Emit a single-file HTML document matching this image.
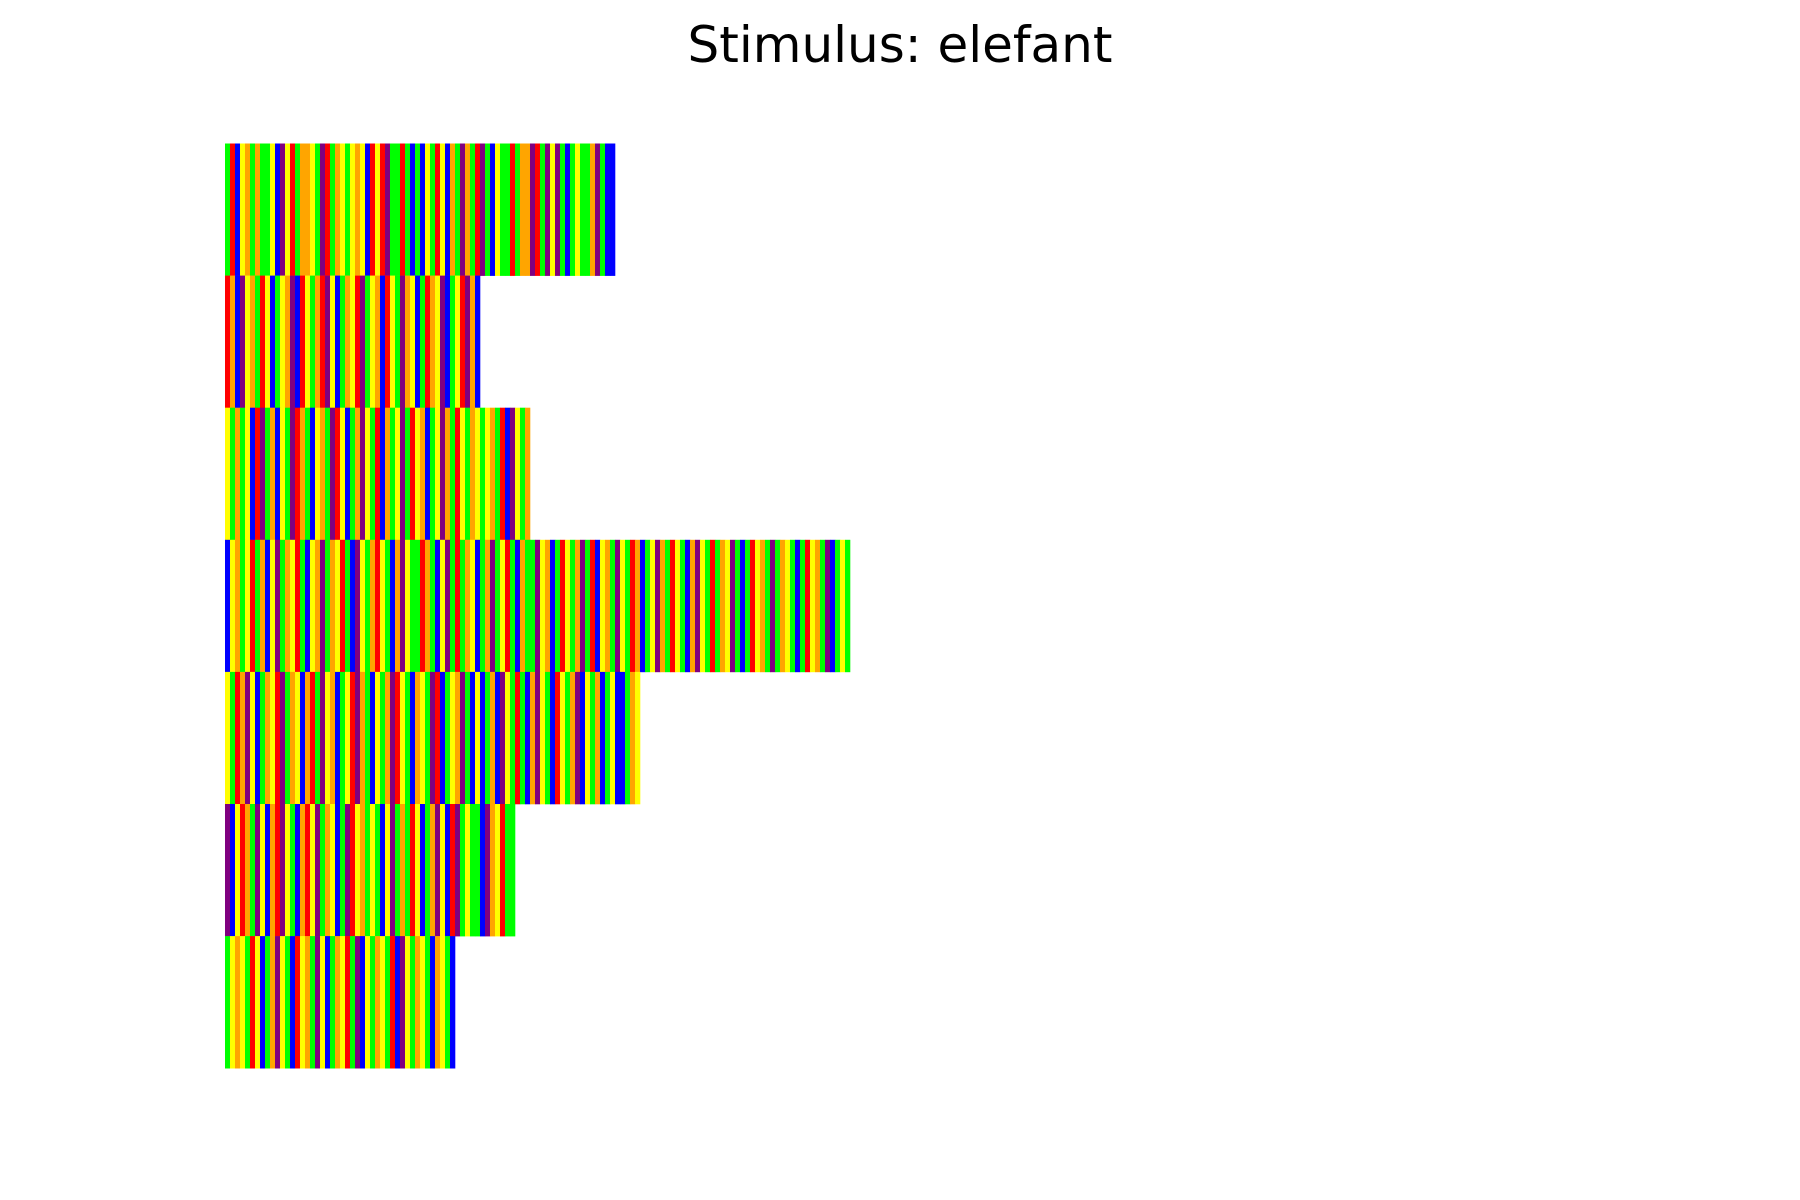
<!DOCTYPE html>
<html><head><meta charset="utf-8"><title>Stimulus: elefant</title>
<style>html,body{margin:0;padding:0;background:#fff;}svg{display:block;}</style></head>
<body>
<svg id="chart" width="1800" height="1200" viewBox="0 0 1800 1200" xmlns="http://www.w3.org/2000/svg">
<rect x="0" y="0" width="1800" height="1200" fill="#fff"/>
<text x="900" y="62" text-anchor="middle" font-family="'DejaVu Sans','Liberation Sans',sans-serif" font-size="50" fill="#000">Stimulus: elefant</text>
<g id="rows"></g>
</svg>
<script>
const rowLabels = ["trial-1","trial-2","trial-3","trial-4","trial-5","trial-6","trial-7"];
const rowLengths = [78, 51, 61, 125, 83, 58, 46];
const row1 = "GRBYOGOGGYBPYRGOOYGPRGOYGYOYBRYRPGGRGBGBYGRYBOGPOGRPGBYGGRGOOPRGPYPGBGYGGOPGBB";
const row2 = "ROBPYOGRYBGYOPBRYGORPYBGOYRPGYOBRYGPOYBGROYPBGYRPOB";
const row3 = "YGOGYBRPGOBYGPROGBYOGPRYBGOPYGRBOGYPGRYOBGYPOGRYGOYGYOGRBPYGO";
const row4 = "BYOGYRGOBYPGOYRGBYOPGOYRGBPYGORYGBOPYGGROGBYPGRGOYBGOPGYRGBOGGPYOBGRYGOPGRBYOGPYGROBGYPOGRYGBOPYGRGOYPGBGRYOGPGOYGBGRYOGPBGYGOG";
const row5 = "YGROPYBGOYRPGOYBORGPYOBGYRPOGBYGOPRYGBOYGPRBGYOPGBYBGOBPYGRGBOPYGBRYGOPBYGOBGYBBGOY";
const row6 = "PBYROGPYBORPYGBORYPGOYBGPRYOGYGBYPGOGRYBGOPYBRPGYGGBPOYRGG";
const row7 = "GYOYGRYBGOPYGBRYOGPYBGOYRGPBYGOYGRBPYGOYGBOYGB";
const rowSeqs = [row1,row2,row3,row4,row5,row6,row7];
const colorMap = {R:"#ff0000",O:"#ffa500",Y:"#ffff00",G:"#00ff00",B:"#0000ff",P:"#800080"};

const plotX0 = 225, plotTop = 143.5, rowH = 132.1, unitW = 5;
function xScale(i){ return plotX0 + i*unitW; }
function yScale(r){ return plotTop + r*rowH; }

const g = document.getElementById('rows');
const NS = "http://www.w3.org/2000/svg";
rowSeqs.forEach((seq, r) => {
  const rg = document.createElementNS(NS, 'g');
  
  
  const n = rowLengths[r];
  for (let i = 0; i < n; i++) {
    const c = seq[i % seq.length];
    const rect = document.createElementNS(NS, 'rect');
    rect.setAttribute('x', xScale(i));
    rect.setAttribute('y', yScale(r));
    rect.setAttribute('width', xScale(i+1) - xScale(i) + 0.3);
    rect.setAttribute('height', rowH + 0.3);
    rect.setAttribute('fill', colorMap[c] || "#00ff00");
    
    
    rg.appendChild(rect);
  }
  g.appendChild(rg);
});
</script>
</body></html>
